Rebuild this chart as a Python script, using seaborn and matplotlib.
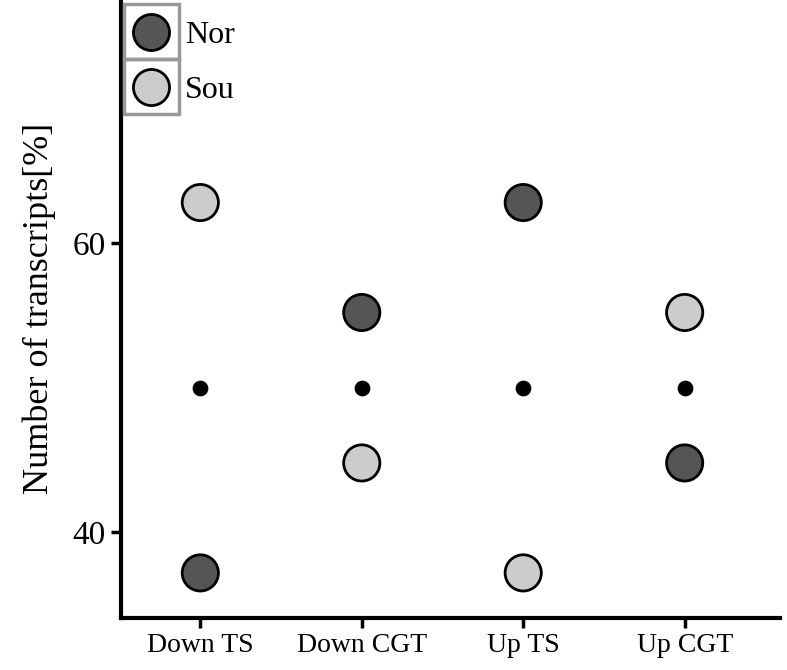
import pandas as pd
import numpy as np
import seaborn as sns
import matplotlib.pyplot as plt
from matplotlib.patches import Rectangle

# -------------------------------
# Data
# -------------------------------
categories = ["Down TS", "Down CGT", "Up TS", "Up CGT"]
nor_values = [37.2, 55.2, 62.8, 44.8]
sou_values = [62.8, 44.8, 37.2, 55.2]
mid_values = [50, 50, 50, 50]
groups = ["Nor", "Sou"]
yticks = [40, 60]

df = pd.DataFrame({
    "Category": categories * 2,
    "Group": ["Nor"] * len(categories) + ["Sou"] * len(categories),
    "Value": nor_values + sou_values,
})
df_mid = pd.DataFrame({"Category": categories, "Value": mid_values})

sns.set_style("ticks")
plt.rcParams["font.family"] = ["Liberation Serif", "DejaVu Serif"]
plt.rcParams["text.color"] = "black"
plt.rcParams["axes.labelcolor"] = "black"
plt.rcParams["xtick.color"] = "black"
plt.rcParams["ytick.color"] = "black"

fig = plt.figure(figsize=(7.87, 6.7), dpi=100)
ax = fig.add_axes([0.154, 0.078, 0.837, 0.922])

palette = {"Nor": "#555555", "Sou": "#cccccc"}
sns.scatterplot(data=df, x="Category", y="Value", hue="Group", hue_order=groups,
                palette=palette, s=680, edgecolor="black", linewidth=2,
                ax=ax, zorder=3)
sns.scatterplot(data=df_mid, x="Category", y="Value", color="black", s=110,
                edgecolor="black", ax=ax, legend=False, zorder=3)

ax.set_xlim(-0.49, 3.59)
ax.set_ylim(34.1, 76.8)
ax.set_yticks(yticks)
ax.set_xlabel("")
ax.set_ylabel("Number of transcripts[%]", fontsize=26, labelpad=12)
ax.tick_params(axis="both", length=7, width=2.5, color="black", pad=4)
ax.tick_params(axis="x", labelsize=20)
ax.tick_params(axis="y", labelsize=24)
for side in ["top", "right"]:
    ax.spines[side].set_visible(False)
for side in ["left", "bottom"]:
    ax.spines[side].set_linewidth(3)
    ax.spines[side].set_color("black")

leg = ax.legend(loc="upper left", bbox_to_anchor=(-0.005, 0.99), frameon=False,
                fontsize=23, handletextpad=0.45,
                labelspacing=0.8, borderpad=0.25, handlelength=1.2,
                borderaxespad=0.2)
for h in leg.legend_handles:
    h.set_markersize(26)
    h.set_markeredgecolor("black")
    h.set_markeredgewidth(2)

# grey boxes around legend keys
fig.canvas.draw()
renderer = fig.canvas.get_renderer()
inv = fig.transFigure.inverted()
for h in leg.legend_handles:
    bb = h.get_window_extent(renderer)
    cx, cy = (bb.x0 + bb.x1) / 2, (bb.y0 + bb.y1) / 2
    w, hgt = 55, 55
    (x0, y0) = inv.transform((cx - w / 2, cy - hgt / 2))
    (x1, y1) = inv.transform((cx + w / 2, cy + hgt / 2))
    fig.add_artist(Rectangle((x0, y0), x1 - x0, y1 - y0, transform=fig.transFigure,
                             fill=False, edgecolor="#999999", linewidth=2.5, zorder=1))

fig.savefig("out.png", dpi=100)
